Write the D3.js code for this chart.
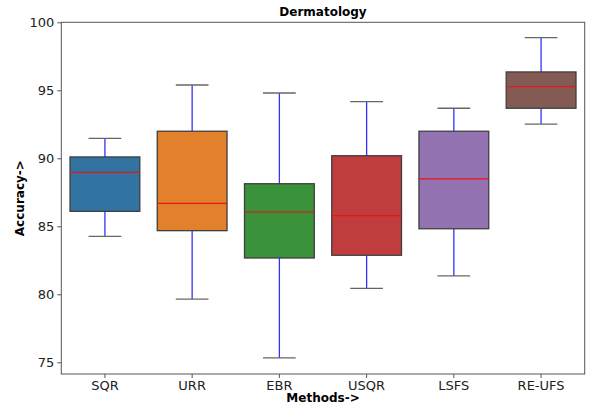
<!DOCTYPE html>
<html>
<head>
<meta charset="utf-8">
<script src="https://cdn.jsdelivr.net/npm/d3@7.9.0/dist/d3.min.js"></script>
<style>
  body { margin: 0; background: #fff; }
  text { font-family: "DejaVu Sans", sans-serif; }
</style>
</head>
<body>
<div id="chart"></div>
<script>
const methods = ["SQR", "URR", "EBR", "USQR", "LSFS", "RE-UFS"];
const whiskerLow = [84.26, 79.65, 75.32, 80.44, 81.35, 92.52];
const q1 = [86.1, 84.68, 82.67, 82.87, 84.82, 93.68];
const median = [88.97, 86.69, 86.05, 85.78, 88.48, 95.26];
const q3 = [90.1, 91.99, 88.13, 90.19, 91.99, 96.35];
const whiskerHigh = [91.47, 95.39, 94.8, 94.16, 93.68, 98.87];
const colors = ["#3274a1", "#e1812c", "#3a923a", "#c03d3e", "#9372b2", "#845b53"];
const yTicks = [75, 80, 85, 90, 95, 100];

const boxes = methods.map((m, i) => ({
  method: m,
  lo: whiskerLow[i],
  q1: q1[i],
  med: median[i],
  q3: q3[i],
  hi: whiskerHigh[i],
  color: colors[i],
}));

const width = 590;
const height = 409;
const margin = { top: 22.3, right: 5.3, bottom: 35, left: 61.3 };

const svg = d3
  .select("#chart")
  .append("svg")
  .attr("width", width)
  .attr("height", height);

const x = d3
  .scaleBand()
  .domain(methods)
  .range([margin.left, width - margin.right])
  .padding(0);

const y = d3
  .scaleLinear()
  .domain([74.14, 100])
  .range([height - margin.bottom, margin.top]);

const boxW = x.bandwidth() * 0.8;
const capW = x.bandwidth() * 0.375;
const edge = "#3f3f3f";

const g = svg
  .selectAll("g.box")
  .data(boxes)
  .join("g")
  .attr("class", "box")
  .attr("transform", (d) => `translate(${x(d.method) + x.bandwidth() / 2},0)`);

// whiskers
g.append("line")
  .attr("y1", (d) => y(d.q3))
  .attr("y2", (d) => y(d.hi))
  .attr("stroke", "#3333ff")
  .attr("stroke-width", 1.3);
g.append("line")
  .attr("y1", (d) => y(d.q1))
  .attr("y2", (d) => y(d.lo))
  .attr("stroke", "#3333ff")
  .attr("stroke-width", 1.3);

// caps
for (const key of ["hi", "lo"]) {
  g.append("line")
    .attr("x1", -capW / 2)
    .attr("x2", capW / 2)
    .attr("y1", (d) => y(d[key]))
    .attr("y2", (d) => y(d[key]))
    .attr("stroke", "#666")
    .attr("stroke-width", 1.3);
}

g.append("rect")
  .attr("x", -boxW / 2)
  .attr("width", boxW)
  .attr("y", (d) => y(d.q3))
  .attr("height", (d) => y(d.q1) - y(d.q3))
  .attr("fill", (d) => d.color)
  .attr("stroke", edge)
  .attr("stroke-width", 1.3);

g.append("line")
  .attr("x1", -boxW / 2)
  .attr("x2", boxW / 2)
  .attr("y1", (d) => y(d.med))
  .attr("y2", (d) => y(d.med))
  .attr("stroke", "#ee1111")
  .attr("stroke-width", 1.2);

// frame
svg
  .append("rect")
  .attr("x", margin.left)
  .attr("y", margin.top)
  .attr("width", width - margin.left - margin.right)
  .attr("height", height - margin.top - margin.bottom)
  .attr("fill", "none")
  .attr("stroke", "#555")
  .attr("stroke-width", 1);

// axes
const yAxis = svg
  .append("g")
  .attr("transform", `translate(${margin.left},0)`)
  .call(d3.axisLeft(y).tickValues(yTicks).tickSize(4).tickPadding(3));
const xAxis = svg
  .append("g")
  .attr("transform", `translate(0,${height - margin.bottom})`)
  .call(d3.axisBottom(x).tickSize(4).tickPadding(3));

for (const ax of [xAxis, yAxis]) {
  ax.select(".domain").remove();
  ax.selectAll(".tick line").attr("stroke", "#555");
  ax.selectAll(".tick text")
    .attr("font-size", 13)
    .attr("font-family", "DejaVu Sans, sans-serif")
    .attr("fill", "#222");
}

svg
  .append("text")
  .attr("x", (margin.left + width - margin.right) / 2)
  .attr("y", 15.5)
  .attr("text-anchor", "middle")
  .attr("font-size", 12)
  .attr("font-weight", "bold")
  .text("Dermatology");

svg
  .append("text")
  .attr("x", (margin.left + width - margin.right) / 2)
  .attr("y", 402)
  .attr("text-anchor", "middle")
  .attr("font-size", 12)
  .attr("font-weight", "bold")
  .text("Methods->");

svg
  .append("text")
  .attr("transform", `translate(24,${(margin.top + height - margin.bottom) / 2}) rotate(-90)`)
  .attr("text-anchor", "middle")
  .attr("font-size", 12)
  .attr("font-weight", "bold")
  .text("Accuracy->");
</script>
</body>
</html>
